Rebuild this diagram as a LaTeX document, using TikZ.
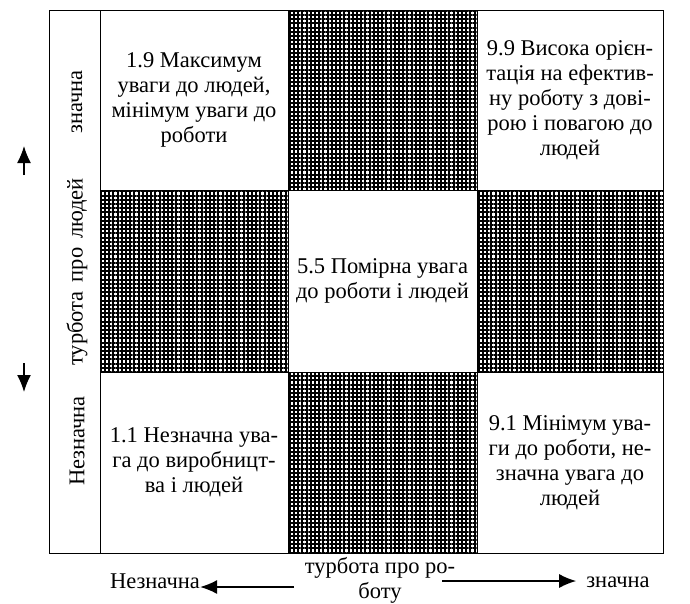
\documentclass[tikz,border=0pt]{standalone}
\usepackage{fontspec}
\setmainfont{Liberation Serif}
\usetikzlibrary{patterns.meta,arrows.meta}
\begin{document}
\begin{tikzpicture}[x=1pt,y=-1pt,
  txt/.style={font=\fontsize{22.5}{25}\selectfont},
  cell/.style={draw,line width=0.9pt,inner sep=0pt,align=center,txt},
  hatched/.style={draw,line width=0.9pt,inner sep=0pt,
    pattern={Hatch[distance=4.2pt,line width=1.9pt]}},
  axislabel/.style={txt,inner sep=0pt},
  axisarrow/.style={line width=1.4pt,-{Latex[length=17pt,width=14pt]}}
]
\fill[white] (0,0) rectangle (690,603);
\useasboundingbox (0,0) rectangle (690,603);

% side strip for the vertical axis
\node[draw,line width=0.9pt,inner sep=0pt,minimum width=51pt,minimum height=543pt] (strip) at (74.5,281.5) {};

% hatched cells
\node[hatched,minimum width=189pt,minimum height=180pt] (htop) at (382.5,100) {};
\node[hatched,minimum width=188pt,minimum height=182pt] (hleft) at (194,281) {};
\node[hatched,minimum width=186pt,minimum height=182pt] (hright) at (570,281) {};
\node[hatched,minimum width=189pt,minimum height=181pt] (hbottom) at (382.5,462.5) {};

% white cells with the five styles
\node[cell,minimum width=188pt,minimum height=180pt] (c19) at (194,100)
  {1.9 Максимум\\уваги до людей,\\мінімум уваги до\\роботи};
\node[cell,minimum width=186pt,minimum height=180pt] (c99) at (570,100)
  {9.9 Висока орієн-\\тація на ефектив-\\ну роботу з дові-\\рою і повагою до\\людей};
\node[cell,minimum width=189pt,minimum height=182pt] (c55) at (382.5,281)
  {5.5 Помірна увага\\до роботи і людей};
\node[cell,minimum width=188pt,minimum height=181pt] (c11) at (194,462.5)
  {1.1 Незначна ува-\\га до виробницт-\\ва і людей};
\node[cell,minimum width=186pt,minimum height=181pt] (c91) at (570,462.5)
  {9.1 Мінімум ува-\\ги до роботи, не-\\значна увага до\\людей};

% vertical axis
\node[axislabel,rotate=90] (yhigh) at (77,102) {значна};
\node[axislabel,rotate=90] (yname) at (77,272) {турбота\hspace{0.4em}про\hspace{0.4em}людей};
\node[axislabel,rotate=90] (ylow) at (77,441) {Незначна};
\coordinate (upfrom) at (24,175);
\coordinate (upto) at (24,146);
\coordinate (downfrom) at (24,363);
\coordinate (downto) at (24,392);
\draw[axisarrow] (upfrom) -- (upto);
\draw[axisarrow] (downfrom) -- (downto);

% horizontal axis
\node[axislabel] (xlow) at (155,581) {Незначна};
\node[axislabel,align=center] (xname) at (380,580) {турбота про ро-\\боту};
\node[axislabel] (xhigh) at (618,582) {значна};
\coordinate (leftfrom) at (294,587);
\coordinate (rightfrom) at (442,581);
\draw[axisarrow] (leftfrom) -- (leftfrom -| xlow.east);
\draw[axisarrow] (rightfrom) -- ([xshift=-10pt]rightfrom -| xhigh.west);
\end{tikzpicture}
\end{document}
